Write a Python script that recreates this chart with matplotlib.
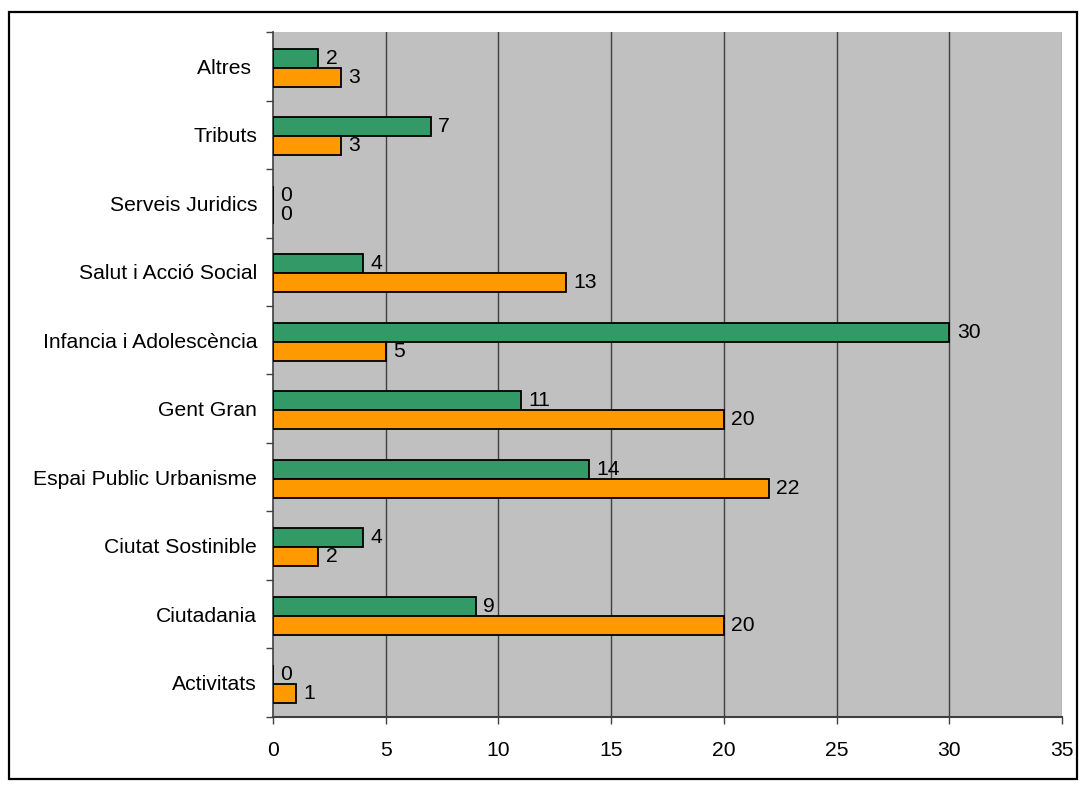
import matplotlib.pyplot as plt
import matplotlib.patches as patches
import numpy as np

plt.rcParams['font.family'] = ['Liberation Sans', 'DejaVu Sans']

# categories listed bottom to top
categories = ["Activitats", "Ciutadania", "Ciutat Sostinible", "Espai Public Urbanisme",
              "Gent Gran", "Infancia i Adolescència", "Salut i Acció Social",
              "Serveis Juridics", "Tributs", "Altres "]
green_vals = [0, 9, 4, 14, 11, 30, 4, 0, 7, 2]
orange_vals = [1, 20, 2, 22, 20, 5, 13, 0, 3, 3]
x_ticks = [0, 5, 10, 15, 20, 25, 30, 35]

fs = 15.2

fig = plt.figure(figsize=(10.87, 7.89), dpi=100)
ax = fig.add_axes([0.2512, 0.0913, 0.9770 - 0.2512, 0.9594 - 0.0913])

# outer frame around the whole chart
fig.patches.append(patches.Rectangle((9 / 1087, 10 / 789), 1068 / 1087, 767 / 789,
                                     transform=fig.transFigure, fill=False,
                                     edgecolor="black", linewidth=1.6))

y = np.arange(len(categories))
h = 0.277
shift = -0.02
ax.barh(y + h / 2 + shift, green_vals, height=h, color="#339966", edgecolor="black", linewidth=1.3, zorder=3)
ax.barh(y - h / 2 + shift, orange_vals, height=h, color="#FF9900", edgecolor="black", linewidth=1.3, zorder=3)

for yi, g, o in zip(y, green_vals, orange_vals):
    ax.text(g + 0.33, yi + h / 2 + shift, str(g), va="center", ha="left", fontsize=fs, zorder=4)
    ax.text(o + 0.33, yi - h / 2 + shift, str(o), va="center", ha="left", fontsize=fs, zorder=4)

ax.set_facecolor("#C0C0C0")
ax.set_xlim(0, 35)
ax.set_ylim(-0.5, len(categories) - 0.5)

ax.set_xticks(x_ticks)
ax.set_xticklabels([str(t) for t in x_ticks], fontsize=fs)
ax.set_yticks(y)
ax.set_yticklabels(categories, fontsize=fs)
ax.set_yticks(np.arange(-0.5, len(categories)), minor=True)

ax.tick_params(axis="y", which="major", length=0, pad=11.5)
ax.tick_params(axis="y", which="minor", length=5, width=1, color="#404040", left=True)
ax.tick_params(axis="x", length=5, width=1, color="#404040", pad=12)

for x in x_ticks[1:-1]:
    ax.axvline(x, color="#404040", linewidth=1, zorder=1)
ax.axvline(35, color="#909090", linewidth=1, zorder=1)

for side in ["top", "right"]:
    ax.spines[side].set_visible(False)
ax.spines["left"].set_color("#404040")
ax.spines["bottom"].set_color("#404040")
ax.spines["left"].set_linewidth(1.2)
ax.spines["bottom"].set_linewidth(1.5)

fig.savefig("out.png", dpi=100)
